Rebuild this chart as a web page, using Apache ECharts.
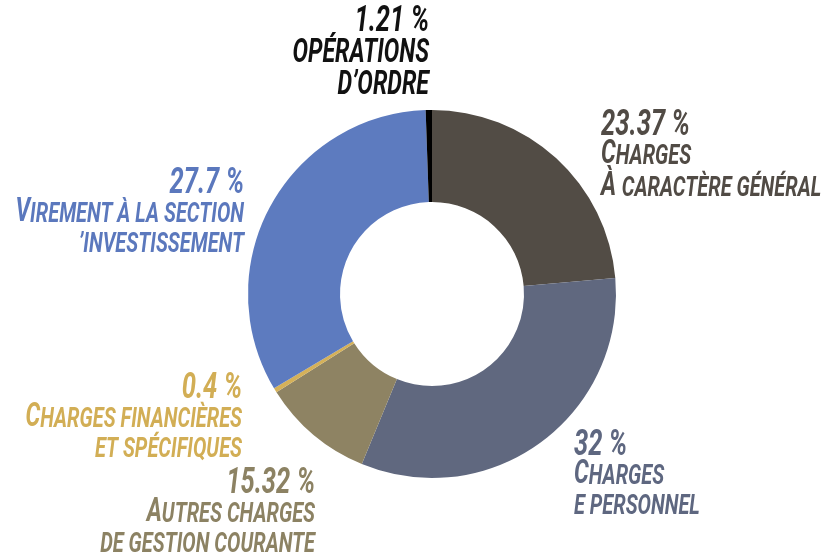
<!DOCTYPE html>
<html>
<head>
<meta charset="utf-8">
<script src="https://cdn.jsdelivr.net/npm/echarts@6/dist/echarts.min.js"></script>
<style>
  html, body { margin: 0; padding: 0; background: #fff; }
  #chart { width: 821px; height: 555px; }
</style>
</head>
<body>
<div id="chart"></div>
<script>
// slices, clockwise from the top
const categories = [
  'Charges à caractère général',
  'Charges de personnel',
  'Autres charges de gestion courante',
  'Charges financières et spécifiques',
  "Virement à la section d'investissement",
  "Opérations d'ordre"
]
const sliceValues = [23.6, 32.6, 9.8, 0.4, 33.0, 0.55]
const percentLabels = ['23.37 %', '32 %', '15.32 %', '0.4 %', '27.7 %', '1.21 %']
const nameLabels = [
  'Charges\nÀ caractère général',
  'Charges\ne personnel',
  'Autres charges\nde gestion courante',
  'Charges financières\net spécifiques',
  'Virement à la section\n’investissement',
  'OPÉRATIONS\nD’ORDRE'
]
const sliceColors = ['#524c45', '#60687f', '#8e8363', '#d5b159', '#5d7bbf', '#000000']
const textColors = ['#514b45', '#5e6780', '#8c8263', '#d2ae55', '#5b78bd', '#111111']

// where each label block sits: x, top, align, name offset, line height
const anchors = [
  [601, 108, 'left', 30, 26.5],
  [574, 428, 'left', 30, 26.5],
  [315, 466, 'right', 30, 26.5],
  [242, 371, 'right', 30, 26.5],
  [244, 166, 'right', 30, 26.5],
  [429, 2, 'right', 35, 28]
]

// capitals -> big letters, the rest -> small capitals
function smallCaps(line) {
  let out = '{g|\u200b}'
  let cur = null
  let buf = ''
  for (const ch of line) {
    let st = ch !== ch.toLowerCase() ? 'b' : 's'
    if (ch.toLowerCase() === ch.toUpperCase() && cur) st = cur
    if (st !== cur && buf) {
      out += '{' + cur + '|' + buf + '}'
      buf = ''
    }
    cur = st
    buf += ch.toUpperCase()
  }
  if (buf) out += '{' + cur + '|' + buf + '}'
  return out
}

function richFor(color, lh) {
  const base = {
    fontFamily: 'Roboto',
    fontWeight: 'bold',
    fontStyle: 'italic',
    fill: color,
    verticalAlign: 'bottom'
  }
  return {
    g: {lineHeight: lh, fontSize: 10},
    n: Object.assign({}, base, {fontSize: 32, lineHeight: 26}),
    b: Object.assign({}, base, {fontSize: 29}),
    s: Object.assign({}, base, {fontSize: 25})
  }
}

function labelText(i, text, dy) {
  return {
    type: 'text',
    x: anchors[i][0],
    y: anchors[i][1] + dy,
    originX: 0,
    originY: 0,
    scaleX: 0.8,
    scaleY: 1.13,
    silent: true,
    style: {
      text: text,
      align: anchors[i][2],
      verticalAlign: 'top',
      fill: textColors[i],
      rich: richFor(textColors[i], anchors[i][4])
    }
  }
}

const graphics = []
percentLabels.forEach((p, i) => {
  graphics.push(labelText(i, '{g|\u200b}{n|' + p + '}', 6))
  graphics.push(labelText(i, nameLabels[i].split('\n').map(smallCaps).join('\n'), anchors[i][3]))
})

const chart = echarts.init(document.getElementById('chart'))
const option = {
  backgroundColor: '#ffffff',
  animation: false,
  series: [
    {
      type: 'pie',
      center: [432, 294],
      radius: [92, 184],
      startAngle: 90,
      clockwise: true,
      silent: true,
      label: {show: false},
      labelLine: {show: false},
      data: categories.map((name, i) => ({
        name: name,
        value: sliceValues[i],
        itemStyle: {color: sliceColors[i]}
      }))
    }
  ],
  graphic: graphics
}
option && chart.setOption(option)
</script>
</body>
</html>
